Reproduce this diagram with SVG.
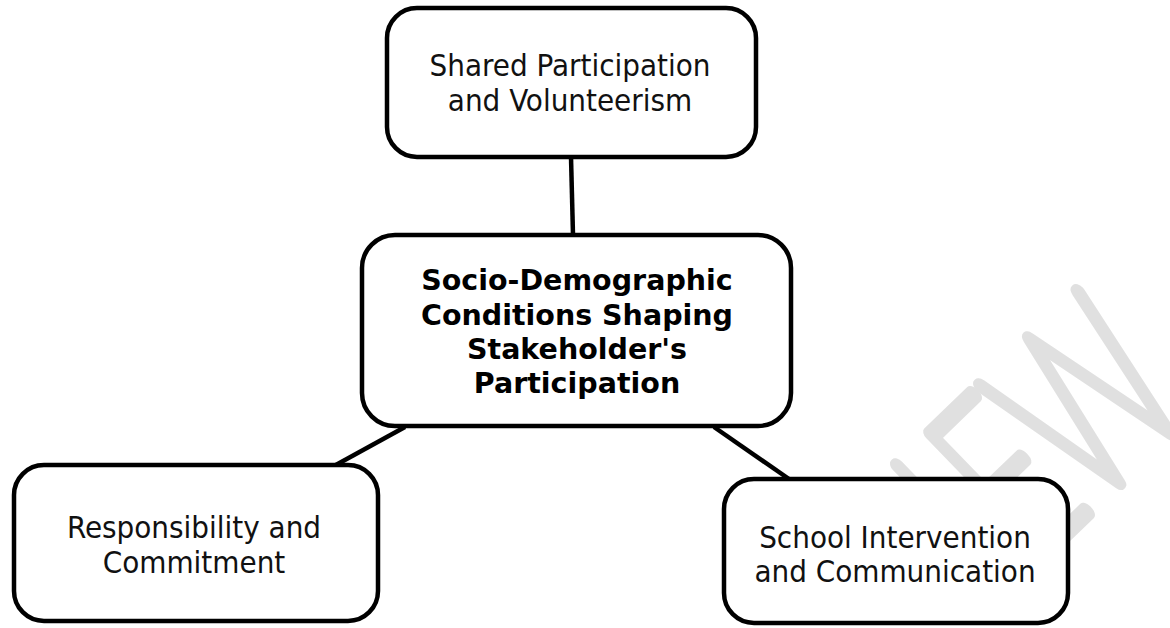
<svg xmlns="http://www.w3.org/2000/svg" width="1170" height="628" viewBox="0 0 1170 628">
<style>
.box{fill:#fff;stroke:#000;stroke-width:4.5}
.lbl{font-family:"DejaVu Sans","Liberation Sans",sans-serif;font-stretch:condensed;font-size:31px;fill:#111;text-anchor:middle}
.bold{font-weight:bold;font-stretch:normal;font-size:28.5px;fill:#000}
.conn{stroke:#000;stroke-width:4.5;fill:none}
.wm{font-family:"Lato","DejaVu Sans",sans-serif;font-weight:100;font-size:236px;fill:#e0e0e0;stroke:#e0e0e0;stroke-width:17;stroke-linejoin:round;stroke-linecap:round;text-anchor:middle}
</style>
<rect width="1170" height="628" fill="#fff"/>
<g id="watermark" transform="rotate(-44)">
<g transform="translate(322,1124) scale(0.62,1)"><text class="wm" x="0" y="0">I</text></g>
<g transform="translate(393,1124) scale(0.62,1)"><text class="wm" x="0" y="0">E</text></g>
<g transform="translate(505,1124) scale(0.62,1)"><text class="wm" x="0" y="0">W</text></g>
</g>
<g id="connectors">
<line class="conn" x1="571" y1="157" x2="573" y2="235"/>
<line class="conn" x1="405" y1="427" x2="334" y2="466"/>
<line class="conn" x1="714" y1="427" x2="789" y2="479"/>
</g>
<g id="node-top">
<rect class="box" x="387" y="8" width="369" height="149" rx="30"/>
<text class="lbl" x="570" y="76">Shared Participation</text>
<text class="lbl" x="570" y="111">and Volunteerism</text>
</g>
<g id="node-center">
<rect class="box" x="362" y="235" width="429" height="191" rx="33"/>
<text class="lbl bold" x="577" y="290">Socio-Demographic</text>
<text class="lbl bold" x="577" y="325">Conditions Shaping</text>
<text class="lbl bold" x="577" y="359">Stakeholder's</text>
<text class="lbl bold" x="577" y="393">Participation</text>
</g>
<g id="node-left">
<rect class="box" x="14" y="465" width="364" height="156" rx="30"/>
<text class="lbl" x="194" y="538">Responsibility and</text>
<text class="lbl" x="194" y="573">Commitment</text>
</g>
<g id="node-right">
<rect class="box" x="724" y="479" width="344" height="144" rx="30"/>
<text class="lbl" x="895" y="548">School Intervention</text>
<text class="lbl" x="895" y="582">and Communication</text>
</g>
</svg>
